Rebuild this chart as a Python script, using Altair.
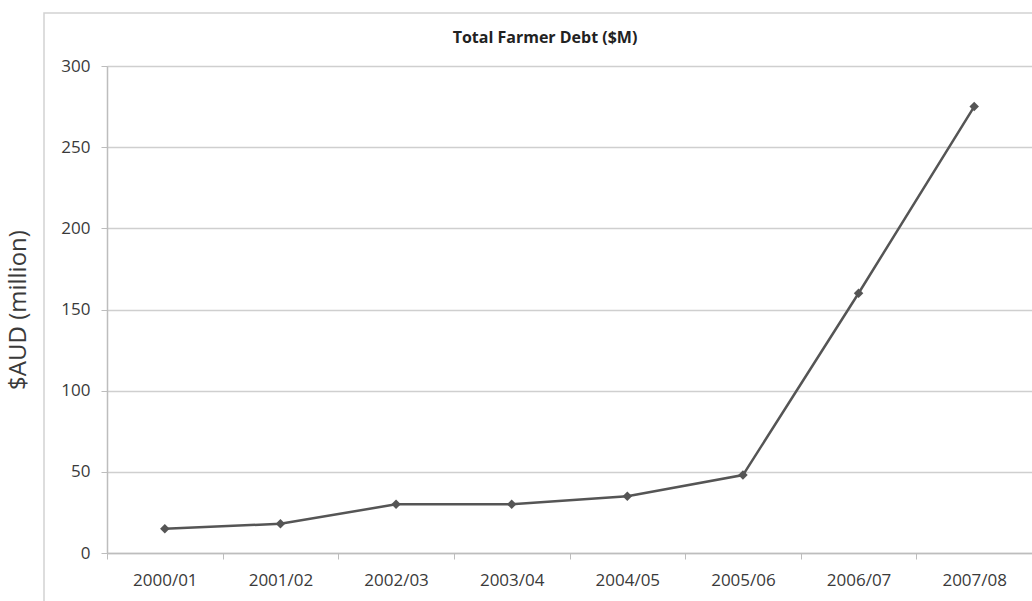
import altair as alt
import pandas as pd

years = ["2000/01", "2001/02", "2002/03", "2003/04", "2004/05", "2005/06", "2006/07", "2007/08"]
debt = [15, 18, 30, 30, 35, 48, 160, 275]
y_ticks = [0, 50, 100, 150, 200, 250, 300]
chart_title = "Total Farmer Debt ($M)"

df = pd.DataFrame({"year": years, "debt": debt})

FONT = "Open Sans"
W, H = 925, 487

x_enc = alt.X("year:N", sort=years,
              scale=alt.Scale(type="band", paddingInner=0, paddingOuter=0),
              axis=alt.Axis(title=None, labelAngle=0, labelFontSize=17, labelColor="#3a3a3a",
                            labelFont=FONT, tickBand="extent", tickSize=6, tickColor="#bdbdbd",
                            domainColor="#bdbdbd", domainWidth=1.5, labelPadding=13, grid=False))
y_enc = alt.Y("debt:Q",
              scale=alt.Scale(domain=[0, 300], nice=False),
              axis=alt.Axis(values=y_ticks, title="$AUD (million)", titleFontSize=24,
                            titleFont=FONT, titleFontWeight="normal", titleColor="#3a3a3a",
                            titleX=-89, titleY=H / 2, titleAngle=-90, titleAlign="center",
                            titleBaseline="middle",
                            labelFontSize=17, labelColor="#3a3a3a", labelFont=FONT,
                            tickSize=6, tickColor="#bdbdbd", labelPadding=11,
                            domainColor="#bdbdbd", domainWidth=1.5,
                            gridColor="#cfcfcf", gridWidth=1.5))

frame = alt.Chart(alt.Data(values=[{"k": 1}])).mark_rect(
    fill=None, stroke="#d2d2d2", strokeWidth=1.5
).encode(x=alt.value(-63), x2=alt.value(1100), y=alt.value(-53), y2=alt.value(700))

title = alt.Chart(alt.Data(values=[{"t": chart_title}])).mark_text(
    font=FONT, fontSize=16, fontWeight="bold", color="#222222", align="center", baseline="middle"
).encode(text="t:N", x=alt.value(438), y=alt.value(-28))

line = alt.Chart(df).mark_line(color="#555555", strokeWidth=2.5).encode(x=x_enc, y=y_enc)
pts = alt.Chart(df).mark_point(shape="diamond", filled=True, size=90, color="#555555",
                               opacity=1).encode(x=x_enc, y=y_enc)

chart = alt.layer(frame, title, line, pts).properties(
    width=W, height=H,
    autosize=alt.AutoSizeParams(type="none"),
    padding={"left": 107, "top": 66, "right": 0, "bottom": 48},
).configure_view(stroke=None).configure(background="white")

chart.save("out.html", embed_options={"renderer": "svg", "actions": False})
